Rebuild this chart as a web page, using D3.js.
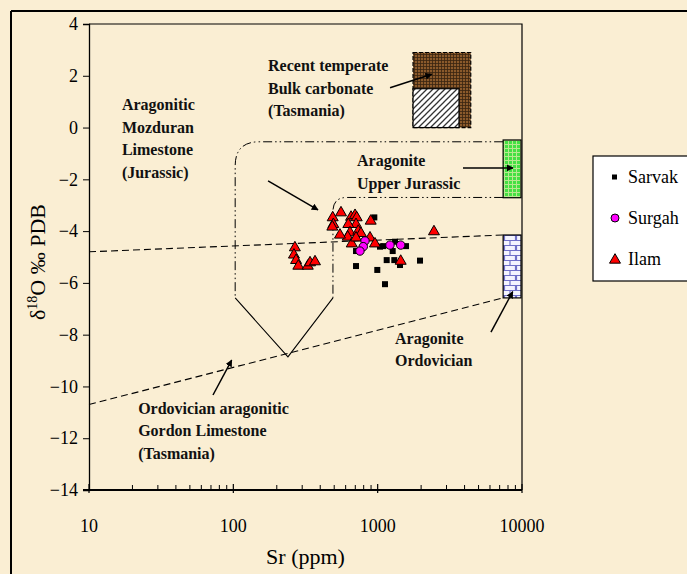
<!DOCTYPE html>
<html><head><meta charset="utf-8">
<script src="https://cdn.jsdelivr.net/npm/d3@7"></script>
<style>
html,body{margin:0;padding:0;background:#F9ECCF;overflow:hidden;}
svg{display:block;}
</style></head>
<body>
<svg id="chart" width="687" height="574"></svg>
<script>
// ---- data ----
const xTicks = [10, 100, 1000, 10000];
const yTicks = [-14, -12, -10, -8, -6, -4, -2, 0, 2, 4];
const seriesNames = ["Sarvak", "Surgah", "Ilam"];

const sarvakSr = [948, 708, 994, 1124, 1155, 1304, 1428, 1965, 1038, 1094, 1271, 1319, 1572, 708];
const sarvakO  = [-3.47, -5.35, -5.50, -6.05, -5.12, -5.12, -5.31, -5.14, -4.60, -4.58, -4.77, -4.41, -4.58, -4.77];

const surgahSr = [817, 795, 754, 1217, 1444];
const surgahO  = [-4.38, -4.60, -4.77, -4.54, -4.54];

const ilamSr = [488, 557, 493, 485, 654, 697, 716, 708, 626, 643, 620, 661, 548, 734, 766, 895, 885, 958, 708, 2455, 1444, 267, 263, 272, 282, 328, 340, 368];
const ilamO  = [-3.44, -3.25, -3.70, -3.80, -3.42, -3.35, -3.44, -3.70, -3.70, -4.02, -4.19, -4.45, -4.11, -3.96, -4.05, -3.57, -4.22, -4.45, -4.22, -3.98, -5.12, -4.60, -4.88, -5.09, -5.31, -5.31, -5.18, -5.14];

// annotation geometry in data units (Sr ppm, d18O)
const trendUpper = [[10, -4.8], [7400, -4.15]];
const trendLower = [[10, -10.7], [7400, -6.58]];
const mozOuter = {x: 103, yTop: -0.55, yBottom: -6.58, xEnd: 7400};
const mozInner = {x: 490, yTop: -2.7, yBottom: -6.58, xEnd: 7400};
const vShape = [[103, -6.58], [239, -8.86], [490, -6.58]];
const boxBrown = {x0: 1758, x1: 4416, y0: 0, y1: 2.9};
const boxHatch = {x0: 1758, x1: 3660, y0: 0, y1: 1.5};
const boxGreen = {x0: 7400, x1: 9840, y0: -2.71, y1: -0.48};
const boxBlue = {x0: 7400, x1: 9840, y0: -6.58, y1: -4.15};
const arrows = [
  [[1218, 1.54], [2368, 2.06]],
  [[174, -2.06], [386, -3.18]],
  [[3899, -1.56], [8665, -1.56]],
  [[6095, -7.9], [8625, -6.34]],
  [[72.3, -10.33], [97.4, -8.98]]
];
const labels = [
  {x: 16.9, y: 0.66, lines: ["Aragonitic", "Mozduran", "Limestone", "(Jurassic)"]},
  {x: 174, y: 2.17, lines: ["Recent temperate", "Bulk carbonate", "(Tasmania)"]},
  {x: 719, y: -1.5, lines: ["Aragonite", "Upper Jurassic"]},
  {x: 1320, y: -8.36, lines: ["Aragonite", "Ordovician"]},
  {x: 21.9, y: -11.06, lines: ["Ordovician aragonitic", "Gordon Limestone", "(Tasmania)"]}
];

// ---- layout ----
const svg = d3.select("#chart");
const W = 687, H = 574;
const m = {left: 89, right: 522, top: 24, bottom: 490};
const x = d3.scaleLog().domain([10, 10000]).range([m.left, m.right]);
const y = d3.scaleLinear().domain([-14, 4]).range([m.bottom, m.top]);

const defs = svg.append("defs");
defs.append("marker").attr("id", "ah").attr("viewBox", "0 0 10 10").attr("refX", 9).attr("refY", 5)
  .attr("markerWidth", 7).attr("markerHeight", 7).attr("markerUnits", "userSpaceOnUse").attr("orient", "auto")
  .append("path").attr("d", "M0,0 L10,5 L0,10 z").attr("fill", "#000");
const pb = defs.append("pattern").attr("id", "pBrown").attr("width", 3).attr("height", 3).attr("patternUnits", "userSpaceOnUse");
pb.append("rect").attr("width", 3).attr("height", 3).attr("fill", "#8B5A2B");
pb.append("path").attr("d", "M0,0.5 H3 M0.5,0 V3").attr("stroke", "#3A2410").attr("stroke-width", 0.8);
const ph = defs.append("pattern").attr("id", "pHatch").attr("width", 6).attr("height", 6).attr("patternUnits", "userSpaceOnUse");
ph.append("rect").attr("width", 6).attr("height", 6).attr("fill", "#fff");
ph.append("path").attr("d", "M-1,7 L7,-1 M-4,4 L4,-4 M2,10 L10,2").attr("stroke", "#333").attr("stroke-width", 1.3);
const pg = defs.append("pattern").attr("id", "pGreen").attr("width", 4).attr("height", 4).attr("patternUnits", "userSpaceOnUse");
pg.append("rect").attr("width", 4).attr("height", 4).attr("fill", "#44E044");
pg.append("path").attr("d", "M0,0.5 H4 M0.5,0 V4").attr("stroke", "#B8E890").attr("stroke-width", 1);
const pk = defs.append("pattern").attr("id", "pBrick").attr("width", 12).attr("height", 10).attr("patternUnits", "userSpaceOnUse");
pk.append("rect").attr("width", 12).attr("height", 10).attr("fill", "#F4F4FF");
pk.append("path").attr("d", "M0,0.5 H12 M0,5.5 H12 M6,0 V5 M0.5,5 V10 M11.5,5 V10").attr("stroke", "#7070C8").attr("stroke-width", 1.2);

// background
svg.append("rect").attr("x", 0).attr("y", 0).attr("width", W).attr("height", H).attr("fill", "#FAEED3");
// outer frame (left and top edges visible)
svg.append("line").attr("x1", 11).attr("y1", 11).attr("x2", 11).attr("y2", H).attr("stroke", "#000").attr("stroke-width", 2);
svg.append("line").attr("x1", 11).attr("y1", 11).attr("x2", W).attr("y2", 11).attr("stroke", "#000").attr("stroke-width", 2);

// plot frame: top & right
svg.append("path").attr("d", `M${m.left},${m.top} H${m.right} V${m.bottom}`).attr("fill", "none").attr("stroke", "#000").attr("stroke-width", 1.2);

function drawBox(b, fill, dashed) {
  svg.append("rect").attr("x", x(b.x0)).attr("y", y(b.y1))
    .attr("width", x(b.x1) - x(b.x0)).attr("height", y(b.y0) - y(b.y1))
    .attr("fill", fill).attr("stroke", "#000").attr("stroke-width", 1.2)
    .attr("stroke-dasharray", dashed ? "4,2" : null);
}
drawBox(boxBrown, "url(#pBrown)", true);
drawBox(boxHatch, "url(#pHatch)", false);
drawBox(boxGreen, "url(#pGreen)", false);
drawBox(boxBlue, "url(#pBrick)", false);

const line = d3.line().x(d => x(d[0])).y(d => y(d[1]));
[trendUpper, trendLower].forEach(t => {
  svg.append("path").attr("d", line(t)).attr("fill", "none").attr("stroke", "#000").attr("stroke-width", 1.1).attr("stroke-dasharray", "7,4");
});

function mozPath(o, r) {
  const xl = x(o.x), yt = y(o.yTop), yb = y(o.yBottom), xr = x(o.xEnd);
  return `M${xr},${yt} H${xl + r} Q${xl},${yt} ${xl},${yt + r} V${yb}`;
}
svg.append("path").attr("d", mozPath(mozOuter, 24)).attr("fill", "none").attr("stroke", "#000")
  .attr("stroke-width", 1).attr("stroke-dasharray", "9,3,1.5,3,1.5,3");
svg.append("path").attr("d", mozPath(mozInner, 14)).attr("fill", "none").attr("stroke", "#000")
  .attr("stroke-width", 1).attr("stroke-dasharray", "9,3,1.5,3,1.5,3");
svg.append("path").attr("d", line(vShape)).attr("fill", "none").attr("stroke", "#000").attr("stroke-width", 1.1);

arrows.forEach(a => {
  svg.append("path").attr("d", line(a)).attr("fill", "none").attr("stroke", "#000").attr("stroke-width", 1.5).attr("marker-end", "url(#ah)");
});

labels.forEach(l => {
  const t = svg.append("text").attr("x", x(l.x)).attr("y", y(l.y))
    .attr("font-family", "'Liberation Serif','Times New Roman',serif").attr("font-weight", "bold")
    .attr("font-size", 16).attr("fill", "#111");
  l.lines.forEach((s, i) => t.append("tspan").attr("x", x(l.x)).attr("dy", i ? 22.5 : 0).text(s));
});

const font = "'Liberation Serif','Times New Roman',serif";
const yAxis = svg.append("g").attr("transform", `translate(${m.left},0)`)
  .call(d3.axisLeft(y).tickValues(yTicks).tickSize(6).tickFormat(d3.format("d")));
yAxis.select(".domain").attr("stroke-width", 1.3);
yAxis.selectAll("text").attr("font-family", font).attr("font-size", 18).attr("fill", "#000").attr("dx", "-2");

const xAxis = svg.append("g").attr("transform", `translate(0,${m.bottom})`);
xAxis.append("line").attr("x1", m.left - 6).attr("x2", m.right).attr("y1", 0).attr("y2", 0).attr("stroke", "#000").attr("stroke-width", 2.2);
const minor = [];
for (let d = 10; d < 10000; d *= 10) for (let k = 2; k <= 9; k++) minor.push(d * k);
xAxis.selectAll(".mn").data(minor).join("line").attr("x1", d => x(d)).attr("x2", d => x(d)).attr("y1", 0).attr("y2", -5).attr("stroke", "#000").attr("stroke-width", 1);
xAxis.selectAll(".mj").data(xTicks).join("line").attr("x1", d => x(d)).attr("x2", d => x(d)).attr("y1", 3).attr("y2", -6).attr("stroke", "#000").attr("stroke-width", 1.2);
xAxis.selectAll(".tl").data(xTicks).join("text").attr("x", d => x(d)).attr("y", 42).attr("text-anchor", "middle")
  .attr("font-family", font).attr("font-size", 18).text(d => d);

svg.append("text").attr("x", (m.left + m.right) / 2).attr("y", 564).attr("text-anchor", "middle")
  .attr("font-family", font).attr("font-size", 22).text("Sr (ppm)");
const yt = svg.append("text").attr("transform", `translate(45,${(m.top + m.bottom) / 2 + 5}) rotate(-90)`)
  .attr("text-anchor", "middle").attr("font-family", font).attr("font-size", 22);
yt.append("tspan").text("δ");
yt.append("tspan").attr("font-size", 14).attr("dy", -8).text("18");
yt.append("tspan").attr("dy", 8).text("O ‰ PDB");

const g = svg.append("g");
g.selectAll(".sv").data(d3.zip(sarvakSr, sarvakO)).join("rect")
  .attr("x", d => x(d[0]) - 3).attr("y", d => y(d[1]) - 3).attr("width", 6).attr("height", 6).attr("fill", "#000");
const tri = d3.symbol().type(d3.symbolTriangle).size(52);
g.selectAll(".il").data(d3.zip(ilamSr, ilamO)).join("path").attr("d", tri)
  .attr("transform", d => `translate(${x(d[0])},${y(d[1]) + 1})`).attr("fill", "#FF0000").attr("stroke", "#000").attr("stroke-width", 1);
g.selectAll(".sg").data(d3.zip(surgahSr, surgahO)).join("circle")
  .attr("cx", d => x(d[0])).attr("cy", d => y(d[1])).attr("r", 4.2).attr("fill", "#FF00FF").attr("stroke", "#000").attr("stroke-width", 1);

const lg = svg.append("g");
lg.append("rect").attr("x", 593).attr("y", 156).attr("width", 120).attr("height", 125).attr("fill", "#fff").attr("stroke", "#000").attr("stroke-width", 1.2);
const ly = [177, 218, 259];
lg.append("rect").attr("x", 612).attr("y", ly[0] - 2.5).attr("width", 5).attr("height", 5).attr("fill", "#000");
lg.append("circle").attr("cx", 615).attr("cy", ly[1]).attr("r", 4).attr("fill", "#FF00FF").attr("stroke", "#000");
lg.append("path").attr("d", tri).attr("transform", `translate(615,${ly[2] + 1})`).attr("fill", "#FF0000").attr("stroke", "#000");
seriesNames.forEach((s, i) => lg.append("text").attr("x", 628).attr("y", ly[i] + 6)
  .attr("font-family", font).attr("font-size", 18).text(s));
</script>
</body></html>
